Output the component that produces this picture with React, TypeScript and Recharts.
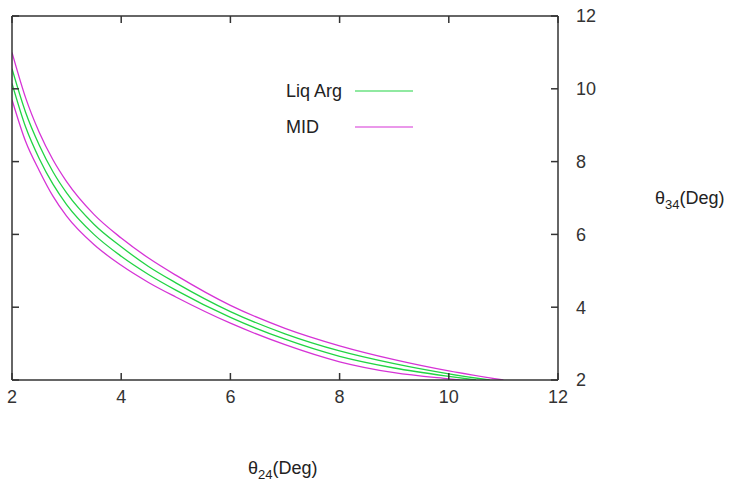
import React from 'react';
import { Legend, Line, LineChart, XAxis, YAxis } from 'recharts';

// theta_24 sample points (deg) shared by the four contour curves
const thetaGrid = [2, 2.25, 2.5, 2.75, 3, 3.5, 4, 4.5, 5, 6, 7, 8, 9, 10];

// theta_34 (deg) for each contour
const midUpper = [11.0, 9.75, 8.8, 8.05, 7.45, 6.55, 5.9, 5.35, 4.88, 4.05, 3.42, 2.94, 2.56, 2.25];
const argUpper = [10.55, 9.35, 8.45, 7.72, 7.14, 6.28, 5.66, 5.12, 4.67, 3.88, 3.27, 2.8, 2.45, 2.17];
const argLower = [10.15, 8.95, 8.08, 7.38, 6.82, 6.0, 5.4, 4.9, 4.47, 3.72, 3.12, 2.65, 2.33, 2.1];
const midLower = [9.7, 8.55, 7.75, 7.05, 6.5, 5.72, 5.15, 4.68, 4.28, 3.56, 2.97, 2.5, 2.2, 2.03];

// where each curve meets the bottom edge (theta_34 = 2)
const endTheta = { midUpper: 11.0, argUpper: 10.75, argLower: 10.5, midLower: 10.2 };

const xTicks = [2, 4, 6, 8, 10, 12];
const yTicks = [2, 4, 6, 8, 10, 12];

const GREEN = '#22d444';
const MAGENTA = '#d633d6';
const AXIS = '#333333';
const FONT = '"Liberation Sans", Arial, sans-serif';

const toPoints = (ys: number[], end: number) =>
  thetaGrid.map((x, i) => ({ x, y: ys[i] })).concat([{ x: end, y: 2 }]);

const NoLabel = () => <g />;

const LegendBox = () => (
  <div style={{ fontFamily: FONT, fontSize: 18, color: '#222' }}>
    {[
      { name: 'Liq Arg', color: GREEN },
      { name: 'MID', color: MAGENTA },
    ].map((item) => (
      <div key={item.name} style={{ display: 'flex', alignItems: 'center', height: 36 }}>
        <span style={{ width: 69 }}>{item.name}</span>
        <svg width={58} height={4}>
          <line x1={0} y1={2} x2={58} y2={2} stroke={item.color} strokeWidth={1.1} />
        </svg>
      </div>
    ))}
  </div>
);

const App = () => {
  const tickStyle = { fill: AXIS, fontSize: 18, fontFamily: FONT };
  // magenta (MID) curves use bottom/right axes, green (Liq Arg) use top/left; all share [2, 12]
  return (
    <div style={{ position: 'absolute', left: 0, top: 0, width: 734, height: 484, background: '#fff' }}>
      <LineChart width={734} height={484} margin={{ top: 15, right: 136, bottom: 74, left: 11 }}>
        <XAxis
          xAxisId="b"
          dataKey="x"
          type="number"
          domain={[2, 12]}
          ticks={xTicks}
          allowDataOverflow
          height={30}
          tick={tickStyle}
          tickSize={-7}
          tickMargin={17}
          stroke={AXIS}
          strokeWidth={1.5}
        />
        <XAxis
          xAxisId="t"
          dataKey="x"
          orientation="top"
          type="number"
          domain={[2, 12]}
          ticks={xTicks}
          allowDataOverflow
          height={1}
          tick={NoLabel}
          tickSize={-7}
          stroke={AXIS}
          strokeWidth={1.5}
        />
        <YAxis
          yAxisId="r"
          orientation="right"
          type="number"
          domain={[2, 12]}
          ticks={yTicks}
          allowDataOverflow
          width={40}
          tick={tickStyle}
          tickSize={-7}
          tickMargin={25}
          stroke={AXIS}
          strokeWidth={1.5}
        />
        <YAxis
          yAxisId="l"
          orientation="left"
          type="number"
          domain={[2, 12]}
          ticks={yTicks}
          allowDataOverflow
          width={1}
          tick={NoLabel}
          tickSize={-7}
          stroke={AXIS}
          strokeWidth={1.5}
        />
        <Legend
          layout="vertical"
          align="center"
          verticalAlign="middle"
          content={() => <LegendBox />}
          wrapperStyle={{ left: 286, top: 73, width: 140 }}
        />
        <Line
          xAxisId="b"
          yAxisId="r"
          data={toPoints(midUpper, endTheta.midUpper)}
          dataKey="y"
          type="monotone"
          stroke={MAGENTA}
          strokeWidth={1.3}
          dot={false}
          isAnimationActive={false}
        />
        <Line
          xAxisId="t"
          yAxisId="l"
          data={toPoints(argUpper, endTheta.argUpper)}
          dataKey="y"
          type="monotone"
          stroke={GREEN}
          strokeWidth={1.3}
          dot={false}
          isAnimationActive={false}
        />
        <Line
          xAxisId="t"
          yAxisId="l"
          data={toPoints(argLower, endTheta.argLower)}
          dataKey="y"
          type="monotone"
          stroke={GREEN}
          strokeWidth={1.3}
          dot={false}
          isAnimationActive={false}
        />
        <Line
          xAxisId="b"
          yAxisId="r"
          data={toPoints(midLower, endTheta.midLower)}
          dataKey="y"
          type="monotone"
          stroke={MAGENTA}
          strokeWidth={1.3}
          dot={false}
          isAnimationActive={false}
        />
      </LineChart>
      <div style={{ position: 'absolute', left: 248, top: 458, fontFamily: FONT, fontSize: 18, color: '#222' }}>
        θ<sub style={{ fontSize: 13 }}>24</sub>(Deg)
      </div>
      <div style={{ position: 'absolute', left: 655, top: 188, fontFamily: FONT, fontSize: 18, color: '#222' }}>
        θ<sub style={{ fontSize: 13 }}>34</sub>(Deg)
      </div>
    </div>
  );
};

export default App;
